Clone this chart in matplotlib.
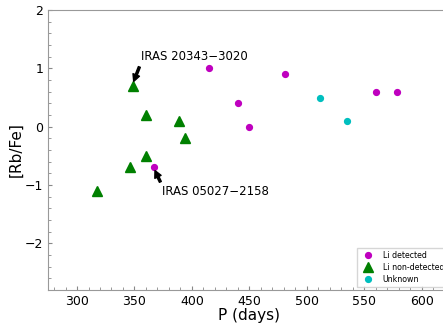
import matplotlib
matplotlib.use("Agg")
import matplotlib.pyplot as plt
from matplotlib.ticker import AutoMinorLocator

# Li detected
det_p = [415, 440, 450, 481, 560, 578, 367]
det_rb = [1.0, 0.4, 0.0, 0.9, 0.6, 0.6, -0.7]

# Li non-detected
non_p = [349, 360, 389, 394, 360, 346, 317]
non_rb = [0.7, 0.2, 0.1, -0.2, -0.5, -0.7, -1.1]

# unknown
unk_p = [511, 535]
unk_rb = [0.5, 0.1]

fig = plt.figure(figsize=(4.43, 3.25), dpi=100)
ax = fig.add_axes([0.109, 0.108, 0.908, 0.861])

ax.plot(det_p, det_rb, 'o', color='m', markersize=4.2, label='Li detected')
ax.plot(non_p, non_rb, '^', color='g', markersize=6.5, label='Li non-detected')
ax.plot(unk_p, unk_rb, 'o', color='c', markersize=4.2, label='Unknown')

arrow = dict(facecolor='black', width=1.5, headwidth=5, headlength=5, shrink=0.05)
ax.annotate('IRAS 20343\u22123020', xy=(349, 0.76), xytext=(355.5, 1.2),
            fontsize=8.5, va='center', arrowprops=arrow)
ax.annotate('IRAS 05027\u22122158', xy=(367.5, -0.74), xytext=(374, -1.12),
            fontsize=8.5, va='center', arrowprops=arrow)

ax.set_xlim(275, 625)
ax.set_ylim(-2.8, 2)
ax.set_xticks([300, 350, 400, 450, 500, 550, 600])
ax.set_yticks([-2, -1, 0, 1, 2])
ax.xaxis.set_minor_locator(AutoMinorLocator(5))
ax.yaxis.set_minor_locator(AutoMinorLocator(5))
ax.tick_params(which='both', direction='in', color='#888888', labelsize=9)
ax.tick_params(which='major', length=3)
ax.tick_params(which='minor', length=2)
for s in ax.spines.values():
    s.set_color('#999999')

ax.set_xlabel('P (days)', fontsize=11, labelpad=0)
ax.set_ylabel('[Rb/Fe]', fontsize=11, labelpad=1)

leg = ax.legend(loc='lower right', fontsize=5.7, fancybox=False, borderaxespad=0.4,
                labelspacing=0.35)
leg.get_frame().set_edgecolor('#cccccc')

fig.savefig('out.png', dpi=100)
